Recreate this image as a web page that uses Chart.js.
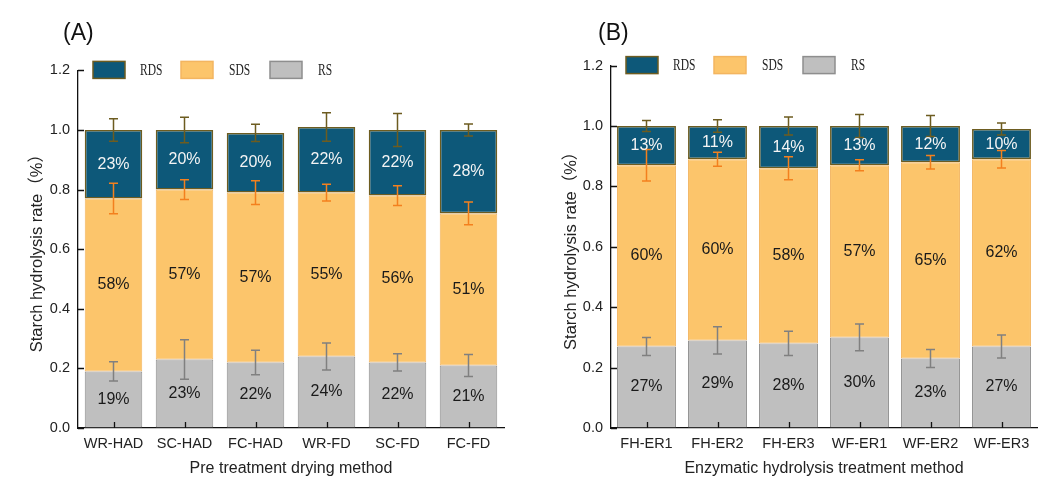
<!DOCTYPE html>
<html><head><meta charset="utf-8">
<script src="https://cdn.jsdelivr.net/npm/chart.js@4.4.1/dist/chart.umd.min.js"></script>
<style>
html,body{margin:0;padding:0;background:#fff;}
#wrap{position:relative;width:1064px;height:481px;overflow:hidden;}
.panel{position:absolute;top:0;width:532px;height:481px;}
</style>
</head><body>
<div id="wrap">
  <div class="panel" style="left:0"><canvas id="cA"></canvas></div>
  <div class="panel" style="left:532px"><canvas id="cB"></canvas></div>
</div>
<script>
// ---- Data ----
const seriesNames = ['RDS', 'SDS', 'RS'];
const yTickValues = [0, 0.2, 0.4, 0.6, 0.8, 1.0, 1.2];

const categoriesA = ['WR-HAD', 'SC-HAD', 'FC-HAD', 'WR-FD', 'SC-FD', 'FC-FD'];
const rsA  = [0.19, 0.23, 0.22, 0.24, 0.22, 0.21];
const sdsA = [0.58, 0.57, 0.57, 0.55, 0.56, 0.51];
const rdsA = [0.23, 0.20, 0.20, 0.22, 0.22, 0.28];
const rsErrA  = [0.032, 0.066, 0.041, 0.045, 0.029, 0.037];
const sdsErrA = [0.051, 0.033, 0.040, 0.028, 0.033, 0.038];
const rdsErrA = [0.038, 0.043, 0.029, 0.048, 0.055, 0.020];

const categoriesB = ['FH-ER1', 'FH-ER2', 'FH-ER3', 'WF-ER1', 'WF-ER2', 'WF-ER3'];
const rsB  = [0.27, 0.29, 0.28, 0.30, 0.23, 0.27];
const sdsB = [0.60, 0.60, 0.58, 0.57, 0.65, 0.62];
const rdsB = [0.13, 0.11, 0.14, 0.13, 0.12, 0.10];
const rsErrB  = [0.030, 0.045, 0.040, 0.044, 0.030, 0.038];
const sdsErrB = [0.052, 0.023, 0.038, 0.018, 0.022, 0.029];
const rdsErrB = [0.018, 0.021, 0.030, 0.038, 0.035, 0.020];

// ---- Styles ----
const SANS = "'Liberation Sans', Arial, 'Noto Sans CJK SC', sans-serif";
const SERIF = "'Liberation Serif', 'Times New Roman', serif";
const COLORS = {
  RDS: {fill: '#0d5879', border: '#6d5c20', err: '#6d5c20', text: '#f4f4f4'},
  SDS: {fill: '#fcc56b', border: '#f3b560', err: '#f3801e', text: '#1a1a1a'},
  RS:  {fill: '#bfbfbf', border: '#8e8e8e', err: '#808080', text: '#1a1a1a'}
};

const errorBarPlugin = {
  id: 'errorBars',
  afterDatasetsDraw(chart) {
    const ctx = chart.ctx;
    const y = chart.scales.y;
    chart.data.datasets.forEach((ds, di) => {
      const meta = chart.getDatasetMeta(di);
      ds.data.forEach((v, i) => {
        let top = 0;
        for (let k = 0; k <= di; k++) top += chart.data.datasets[k].data[i];
        const e = ds.errors[i];
        const x = meta.data[i].x;
        const y1 = y.getPixelForValue(top + e), y2 = y.getPixelForValue(top - e);
        ctx.save();
        ctx.strokeStyle = COLORS[ds.label].err;
        ctx.lineWidth = 1.5;
        ctx.beginPath();
        ctx.moveTo(x, y1); ctx.lineTo(x, y2);
        ctx.moveTo(x - 4.5, y1); ctx.lineTo(x + 4.5, y1);
        ctx.moveTo(x - 4.5, y2); ctx.lineTo(x + 4.5, y2);
        ctx.stroke();
        ctx.restore();
      });
    });
  }
};

const valueLabelPlugin = {
  id: 'valueLabels',
  afterDatasetsDraw(chart) {
    const ctx = chart.ctx;
    chart.data.datasets.forEach((ds, di) => {
      const meta = chart.getDatasetMeta(di);
      meta.data.forEach((el, i) => {
        ctx.save();
        ctx.font = '16px ' + SANS;
        ctx.fillStyle = COLORS[ds.label].text;
        ctx.textAlign = 'center';
        ctx.textBaseline = 'middle';
        ctx.fillText(Math.round(ds.data[i] * 100) + '%', el.x, (el.y + el.base) / 2);
        ctx.restore();
      });
    });
  }
};

const decorPlugin = {
  id: 'decor',
  afterDraw(chart) {
    const ctx = chart.ctx;
    const a = chart.chartArea;
    const xs = chart.scales.x, ys = chart.scales.y;
    const opts = chart.options.plugins.decor;
    ctx.save();
    // inward tick marks
    ctx.strokeStyle = '#111';
    ctx.lineWidth = 1.3;
    ctx.beginPath();
    yTickValues.forEach(v => {
      const py = Math.round(ys.getPixelForValue(v)) + 0.5;
      ctx.moveTo(a.left, py); ctx.lineTo(a.left + 6, py);
    });
    chart.data.labels.forEach((l, i) => {
      const px = Math.round(xs.getPixelForValue(i)) + 0.5;
      ctx.moveTo(px, a.bottom); ctx.lineTo(px, a.bottom - 6);
    });
    ctx.stroke();
    // panel letter
    ctx.fillStyle = '#111';
    ctx.font = '23px ' + SANS;
    ctx.textAlign = 'left';
    ctx.textBaseline = 'middle';
    ctx.fillText(opts.letter, opts.letterX, 34);
    // legend
    const cy = a.top - 0.5;
    const items = [
      {name: 'RDS', box: 15, text: 62},
      {name: 'SDS', box: 103, text: 151},
      {name: 'RS', box: 192, text: 240}
    ];
    items.forEach(it => {
      const c = COLORS[it.name];
      ctx.fillStyle = c.fill;
      ctx.fillRect(a.left + it.box, cy - 8.5, 32, 17);
      ctx.strokeStyle = c.border;
      ctx.lineWidth = 1.5;
      ctx.strokeRect(a.left + it.box, cy - 8.5, 32, 17);
      ctx.save();
      ctx.translate(a.left + it.text, cy + 1);
      ctx.scale(0.72, 1);
      ctx.fillStyle = '#222';
      ctx.font = '16px ' + SERIF;
      ctx.textAlign = 'left';
      ctx.textBaseline = 'middle';
      ctx.fillText(it.name, 0, 0);
      ctx.restore();
    });
    ctx.restore();
  }
};

function makeChart(id, p) {
  const datasets = [
    {label: 'RS', data: p.rs, errors: p.rsErr},
    {label: 'SDS', data: p.sds, errors: p.sdsErr},
    {label: 'RDS', data: p.rds, errors: p.rdsErr}
  ].map(d => Object.assign(d, {
    backgroundColor: COLORS[d.label].fill,
    borderColor: COLORS[d.label].border,
    borderWidth: d.label === 'RDS' ? 1.6 : 1,
    borderSkipped: false,
    barPercentage: p.barPct,
    categoryPercentage: 1
  }));
  return new Chart(document.getElementById(id), {
    type: 'bar',
    data: {labels: p.categories, datasets},
    options: {
      responsive: true,
      maintainAspectRatio: false,
      animation: false,
      layout: {padding: {left: p.padLeft, right: p.padRight, top: p.padTop, bottom: 3}},
      plugins: {
        legend: {display: false},
        tooltip: {enabled: false},
        decor: {letter: p.letter, letterX: p.letterX}
      },
      scales: {
        x: {
          stacked: true,
          offset: true,
          z: 1,
          grid: {display: true, drawOnChartArea: false, drawTicks: false},
          border: {display: true, color: '#111', width: 1.3},
          ticks: {color: '#222', font: {family: SANS, size: 14.5}, padding: 7, maxRotation: 0},
          title: {display: true, text: p.xTitle, color: '#222', font: {family: SANS, size: 16}, padding: {top: 0, bottom: 0}},
          afterFit(s) { s.height = 50; }
        },
        y: {
          stacked: true,
          min: 0, max: 1.2,
          z: 1,
          afterBuildTicks(s) { s.ticks = yTickValues.map(v => ({value: v})); },
          grid: {display: true, drawOnChartArea: false, drawTicks: false},
          border: {display: true, color: '#111', width: 1.3},
          ticks: {color: '#222', font: {family: SANS, size: 14.5}, padding: 8, callback: v => Number(v).toFixed(1)},
          title: {display: true, text: 'Starch hydrolysis rate（%）', color: '#222', font: {family: SANS, size: 16.5}, padding: {top: 0, bottom: 0}},
          afterFit(s) { s.width = p.yWidth; }
        }
      }
    },
    plugins: [errorBarPlugin, valueLabelPlugin, decorPlugin]
  });
}

makeChart('cA', {
  categories: categoriesA, rs: rsA, sds: sdsA, rds: rdsA,
  rsErr: rsErrA, sdsErr: sdsErrA, rdsErr: rdsErrA,
  xTitle: 'Pre treatment drying method', letter: '(A)', letterX: 63,
  padLeft: 28, yWidth: 50, padRight: 28, padTop: 70.4, barPct: 0.81
});
makeChart('cB', {
  categories: categoriesB, rs: rsB, sds: sdsB, rds: rdsB,
  rsErr: rsErrB, sdsErr: sdsErrB, rdsErr: rdsErrB,
  xTitle: 'Enzymatic hydrolysis treatment method', letter: '(B)', letterX: 66,
  padLeft: 29.5, yWidth: 49.5, padRight: 27, padTop: 65.6, barPct: 0.83
});
</script>
</body></html>
